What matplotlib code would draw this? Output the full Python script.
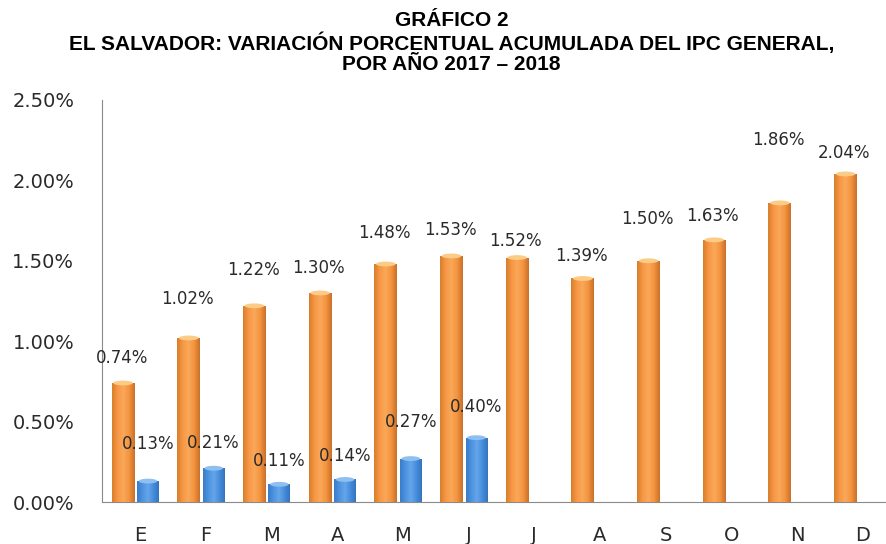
import numpy as np
import matplotlib.pyplot as plt
from matplotlib.colors import LinearSegmentedColormap
from matplotlib.patches import Ellipse

# datos: variación acumulada del IPC (%)
months = ['E', 'F', 'M', 'A', 'M', 'J', 'J', 'A', 'S', 'O', 'N', 'D']
ipc_2017 = [0.74, 1.02, 1.22, 1.30, 1.48, 1.53, 1.52, 1.39, 1.50, 1.63, 1.86, 2.04]
ipc_2018 = [0.13, 0.21, 0.11, 0.14, 0.27, 0.40]
yticks = [0.0, 0.5, 1.0, 1.5, 2.0, 2.5]

# desplazamiento de etiquetas (puntos) - colocadas a mano como en el original
off_2017 = [18, 28, 26, 18, 22, 19, 12, 16, 30, 17, 45, 15]
off_2018 = [27, 18, 17, 17, 26, 22]

title_lines = ['GRÁFICO 2',
               'EL SALVADOR: VARIACIÓN PORCENTUAL ACUMULADA DEL IPC GENERAL,',
               'POR AÑO 2017 – 2018']

ORANGE = ['#D97E2C', '#F79845', '#F9A85A', '#F5943E', '#C9702A']
BLUE = ['#3A7CC8', '#4C93E0', '#66A6EA', '#468DDC', '#3474BE']

fig = plt.figure(figsize=(8.87, 5.44), dpi=100)
ax = fig.add_axes([0.115, 0.0772, 0.885, 0.739])

x = np.arange(len(months))
w = 0.35


def cylinder(bars, colors, top_color):
    cmap = LinearSegmentedColormap.from_list('cyl', colors)
    grad = np.linspace(0, 1, 64).reshape(1, -1)
    for b in bars:
        x0, y0 = b.get_x(), b.get_y()
        bw, bh = b.get_width(), b.get_height()
        im = ax.imshow(grad, cmap=cmap, aspect='auto', zorder=3,
                       extent=[x0, x0 + bw, y0, y0 + bh])
        im.set_clip_path(b)
        ax.add_patch(Ellipse((x0 + bw / 2, y0 + bh), bw * 0.85, 0.03,
                             facecolor=top_color, edgecolor='none', zorder=4))


b17 = ax.bar(x - 0.26, ipc_2017, w, color=ORANGE[1], zorder=2)
b18 = ax.bar(x[:len(ipc_2018)] + 0.12, ipc_2018, w * 0.95, color=BLUE[1], zorder=2)
cylinder(b17, ORANGE, '#FCCB85')
cylinder(b18, BLUE, '#8DBFF0')

for b, v, o in zip(b17, ipc_2017, off_2017):
    ax.annotate(f'{v:.2f}%', (b.get_x() + b.get_width() / 2 - 0.02, v),
                xytext=(0, o), textcoords='offset points', ha='center',
                va='center', fontsize=12, color='#2A2A2A')
for b, v, o in zip(b18, ipc_2018, off_2018):
    ax.annotate(f'{v:.2f}%', (b.get_x() + b.get_width() / 2, v),
                xytext=(0, o), textcoords='offset points', ha='center',
                va='center', fontsize=12, color='#2A2A2A')

ax.set_xlim(-0.58, 11.37)
ax.set_ylim(0, 2.5)
ax.set_xticks(x)
ax.set_xticklabels(months, fontsize=14)
ax.set_yticks(yticks)
ax.set_yticklabels([f'{t:.2f}%' for t in yticks], fontsize=14)
ax.tick_params(length=0, colors='#2A2A2A')
ax.tick_params(axis='x', pad=17)
ax.tick_params(axis='y', pad=20)
for s in ['top', 'right']:
    ax.spines[s].set_visible(False)
for s in ['left', 'bottom']:
    ax.spines[s].set_color('#8A8A8A')

for line, yc in zip(title_lines, [21, 43, 65]):
    fig.text(0.509, 1 - yc / 544, line, ha='center', va='center',
             fontsize=15, fontweight='bold', family='Liberation Sans')

plt.savefig('out.png', dpi=100)
